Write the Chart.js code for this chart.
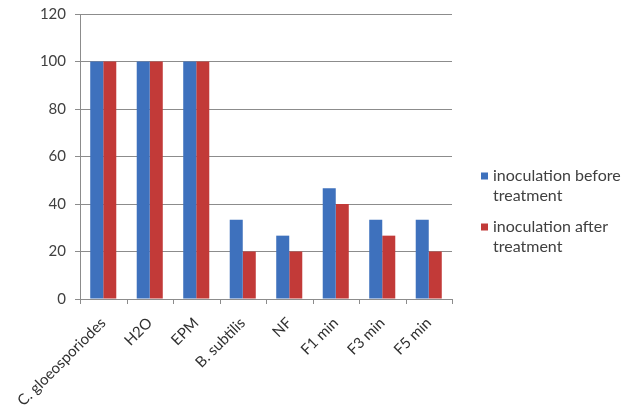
<!DOCTYPE html>
<html>
<head>
<meta charset="utf-8">
<script src="https://cdn.jsdelivr.net/npm/chart.js@4/dist/chart.umd.min.js"></script>
<style>
  html, body { margin: 0; padding: 0; background: #fff; }
  #wrap { width: 625px; height: 410px; }
</style>
</head>
<body>
<div id="wrap"><canvas id="c" width="625" height="410"></canvas></div>
<script>
// Treatments on the x axis
const categories = ['C. gloeosporiodes', 'H2O', 'EPM', 'B. subtilis', 'NF', 'F1 min', 'F3 min', 'F5 min'];
// Percent infected, per series
const beforeTreatment = [100, 100, 100, 33.33, 26.67, 46.67, 33.33, 33.33];
const afterTreatment  = [100, 100, 100, 20, 20, 40, 26.67, 20];
const seriesNames = [['inoculation before', 'treatment'], ['inoculation after', 'treatment']];
const yTicks = [0, 20, 40, 60, 80, 100, 120];

const FONT = 'Lato, "Open Sans", sans-serif';
const COLORS = ['#3e71bd', '#c23a38'];
const AXIS_GRAY = '#8c8c8c';

// Legend drawn beside the plot, two wrapped lines per series
const sideLegend = {
  id: 'sideLegend',
  afterDraw(chart) {
    const ctx = chart.ctx;
    const x0 = chart.chartArea.right + 29;
    const rows = [176, 227];
    ctx.save();
    ctx.font = '16px ' + FONT;
    ctx.textBaseline = 'middle';
    chart.data.datasets.forEach((ds, i) => {
      const y = rows[i];
      ctx.fillStyle = ds.backgroundColor;
      ctx.fillRect(x0, y - 3.5, 7, 7);
      ctx.fillStyle = '#404040';
      ds.label.forEach((line, k) => ctx.fillText(line, x0 + 12, y + k * 20));
    });
    ctx.restore();
  }
};

// Short tick marks below the x axis, at the category boundaries
const categoryTicks = {
  id: 'categoryTicks',
  afterDraw(chart) {
    const x = chart.scales.x;
    const ctx = chart.ctx;
    const bottom = chart.chartArea.bottom;
    const step = (x.right - x.left) / categories.length;
    ctx.save();
    ctx.strokeStyle = AXIS_GRAY;
    ctx.lineWidth = 1;
    ctx.beginPath();
    for (let i = 0; i <= categories.length; i++) {
      const px = Math.round(x.left + i * step) + 0.5;
      ctx.moveTo(px, bottom);
      ctx.lineTo(px, bottom + 5);
    }
    ctx.stroke();
    ctx.restore();
  }
};

new Chart(document.getElementById('c'), {
  type: 'bar',
  data: {
    labels: categories,
    datasets: [
      { label: seriesNames[0], data: beforeTreatment, backgroundColor: COLORS[0], borderWidth: 0 },
      { label: seriesNames[1], data: afterTreatment, backgroundColor: COLORS[1], borderWidth: 0 }
    ]
  },
  plugins: [sideLegend, categoryTicks],
  options: {
    responsive: false,
    animation: false,
    layout: { padding: { top: 14, right: 173, left: 0, bottom: 0 } },
    datasets: { bar: { categoryPercentage: 0.56, barPercentage: 1.0 } },
    plugins: {
      tooltip: { enabled: false },
      legend: { display: false }
    },
    scales: {
      x: {
        offset: true,
        afterFit(axis) { axis.height = 111; },
        grid: { display: false },
        border: { display: true, color: AXIS_GRAY },
        ticks: {
          font: { family: FONT, size: 15 },
          color: '#303030',
          minRotation: 45,
          maxRotation: 45,
          padding: 7
        }
      },
      y: {
        min: 0,
        max: 120,
        afterFit(axis) { axis.width = 80; axis.paddingTop = 0; },
        afterBuildTicks(axis) { axis.ticks = yTicks.map(v => ({ value: v })); },
        grid: { color: AXIS_GRAY, drawTicks: true, tickLength: 5 },
        border: { color: AXIS_GRAY },
        ticks: {
          font: { family: FONT, size: 15 },
          color: '#404040',
          padding: 9
        }
      }
    }
  }
});
</script>
</body>
</html>
